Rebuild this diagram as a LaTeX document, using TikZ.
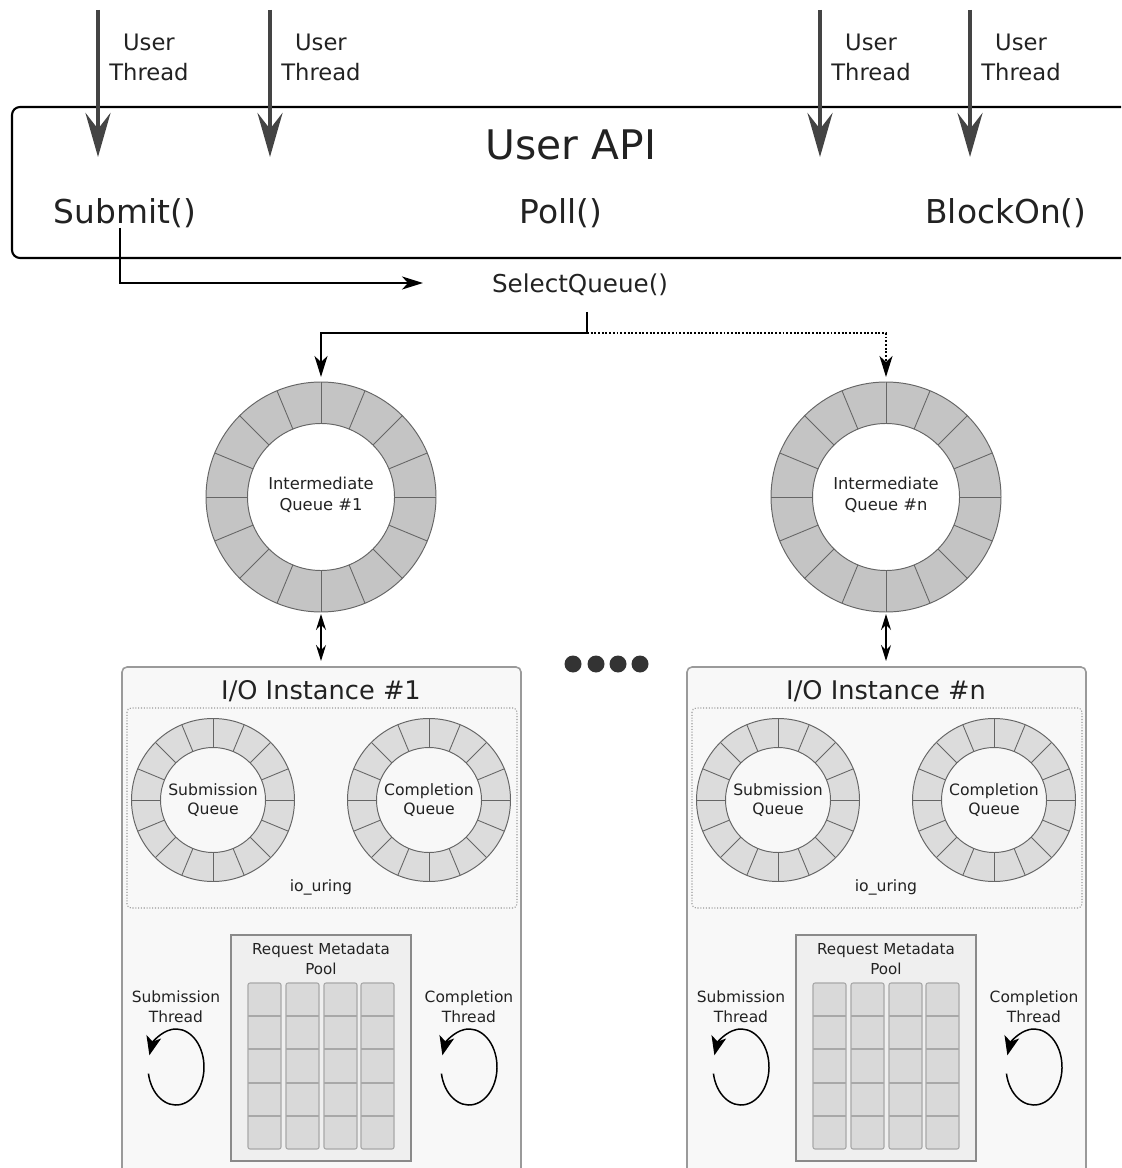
\documentclass[tikz,border=0pt]{standalone}
\usepackage{fontspec}
\setmainfont{DejaVu Sans}
\usetikzlibrary{arrows.meta}

\definecolor{txt}{HTML}{222222}
\definecolor{thr}{HTML}{444444}
\definecolor{ringA}{HTML}{C4C4C4}
\definecolor{ringB}{HTML}{DCDCDC}
\definecolor{ringline}{HTML}{666666}
\definecolor{inst}{HTML}{F8F8F8}
\definecolor{instline}{HTML}{9A9A9A}
\definecolor{poolfill}{HTML}{EFEFEF}
\definecolor{poolline}{HTML}{8A8A8A}
\definecolor{cellfill}{HTML}{D9D9D9}
\definecolor{cellline}{HTML}{A8A8A8}
\definecolor{dotc}{HTML}{333333}

% ring buffer: centre x, centre y, outer radius, inner radius, fill colour
\newcommand{\ringbuf}[5]{%
  \fill[#5,even odd rule] (#1,#2) circle[radius=#3] (#1,#2) circle[radius=#4];
  \foreach \a in {0,22.5,...,337.5}
    \draw[ringline,line width=0.5pt,shift={(#1,#2)}] (\a:#4) -- (\a:#3);
  \draw[ringline,line width=0.55pt] (#1,#2) circle[radius=#3] (#1,#2) circle[radius=#4];
}

\begin{document}
\begin{tikzpicture}[x=0.02cm,y=-0.02cm,
  lbl/.style={text=txt,inner sep=0pt,align=center},
  threadarrow/.style={draw=thr,line width=2.8pt,
    -{Stealth[length=0.88cm,width=0.5cm,inset=0.32cm]}},
  flow/.style={draw=black,line width=1.1pt,
    -{Stealth[length=0.42cm,width=0.26cm,inset=0.12cm]}},
  flowdot/.style={flow,densely dotted},
  biarrow/.style={draw=black,line width=0.7pt,
    {Stealth[length=0.32cm,width=0.2cm]}-{Stealth[length=0.32cm,width=0.2cm]}},
  spin/.style={draw=black,line width=0.85pt,
    -{Stealth[length=0.38cm,width=0.3cm,inset=0.1cm]}},
  apibox/.style={draw=black,line width=1.2pt,rounded corners=0.16cm},
  instbox/.style={fill=inst,draw=instline,line width=0.9pt,rounded corners=0.1cm},
  uringbox/.style={draw=instline,densely dotted,line width=0.6pt,rounded corners=0.08cm},
  poolbox/.style={fill=poolfill,draw=poolline,line width=0.7pt},
  poolcol/.style={fill=cellfill,draw=cellline,line width=0.6pt,rounded corners=0.04cm}
]
\useasboundingbox (0,0) rectangle (1121,1168);
\clip (0,0) rectangle (1121,1168);

% ---------- user API box ----------
\draw[apibox] (12,107) rectangle (1160,258);
\node[lbl,font=\fontsize{23.2}{28}\selectfont] (api) at (571,145) {User API};
\node[lbl,font=\fontsize{18.7}{22}\selectfont] (submit) at (125,213) {Submit()};
\node[lbl,font=\fontsize{18.7}{22}\selectfont] (poll) at (561,213) {Poll()};
\node[lbl,font=\fontsize{18.7}{22}\selectfont] (blockon) at (1006,213) {BlockOn()};

% ---------- user threads ----------
\foreach \k/\x in {1/98,2/270,3/820,4/970}{
  \coordinate (ts\k) at (\x,10);
  \coordinate (te\k) at (\x,157);
  \draw[threadarrow] (ts\k) -- (te\k);
  \node[lbl,font=\fontsize{12.9}{17}\selectfont,anchor=west] (tl\k) at (\x+11,57) {User\\Thread};
}

% ---------- queue selection ----------
\node[lbl,font=\fontsize{14}{17}\selectfont] (select) at (580,285) {SelectQueue()};
\coordinate (sbot) at (120,228);
\coordinate (sarr) at (423,283);
\draw[flow] (sbot) |- (sarr);
\coordinate (qsplit) at (587,312);
\coordinate (qbend) at (587,333);

% ---------- I/O instances ----------
\foreach \i/\ox/\n in {1/0/1,2/565/n}{
\begin{scope}[shift={(\ox,0)}]
  % intermediate queue
  \ringbuf{321}{497}{115}{73.5}{ringA}
  \node[lbl,font=\fontsize{9.3}{11.9}\selectfont] (iq\i) at (321,495) {Intermediate\\Queue \#\n};
  \coordinate (iqtop\i) at (321,377);
  \coordinate (iqbot\i) at (321,614);
  \coordinate (insttop\i) at (321,661);
  \draw[biarrow] (iqbot\i) -- (insttop\i);

  % instance frame
  \draw[instbox] (122,667) rectangle (521,1200);
  \node[lbl,font=\fontsize{14.6}{17}\selectfont] (it\i) at (321,691) {I/O Instance \#\n};

  % io_uring
  \draw[uringbox] (127,708) rectangle (517,908);
  \ringbuf{213}{800}{81.5}{52.5}{ringB}
  \ringbuf{429}{800}{81.5}{52.5}{ringB}
  \node[lbl,font=\fontsize{8.9}{11.3}\selectfont] (sq\i) at (213,800) {Submission\\Queue};
  \node[lbl,font=\fontsize{8.9}{11.3}\selectfont] (cq\i) at (429,800) {Completion\\Queue};
  \node[lbl,font=\fontsize{8.9}{11.3}\selectfont] (ur\i) at (321,887) {io\_uring};

  % request metadata pool
  \draw[poolbox] (231,935) rectangle (411,1161);
  \node[lbl,font=\fontsize{8.6}{11.3}\selectfont] (pool\i) at (321,959) {Request Metadata\\Pool};
  \foreach \cx in {248,286,324,361}{
    \draw[poolcol] (\cx,983) rectangle (\cx+33,1149);
    \foreach \ry in {1016,1049,1083,1116}
      \draw[cellline,line width=0.6pt] (\cx,\ry) -- (\cx+33,\ry);
  }

  % worker threads
  \node[lbl,font=\fontsize{8.8}{11.3}\selectfont] (st\i) at (176,1007) {Submission\\Thread};
  \node[lbl,font=\fontsize{8.8}{11.3}\selectfont] (ct\i) at (469,1007) {Completion\\Thread};
  \coordinate (sc\i) at (176,1067);
  \coordinate (cc\i) at (469,1067);
  \draw[spin] (sc\i) ++(170:28 and 38) arc[start angle=170,end angle=-162,x radius=28,y radius=38];
  \draw[spin] (cc\i) ++(170:28 and 38) arc[start angle=170,end angle=-162,x radius=28,y radius=38];
\end{scope}
}

\draw[flow] (qsplit) -- (qbend) -| (iqtop1);
\draw[flowdot] (qbend) -| (iqtop2);

% ellipsis between instances
\foreach \k/\x in {1/573,2/596,3/618,4/640}
  \fill[dotc] (\x,664) circle[radius=8.5] coordinate (dot\k);

\end{tikzpicture}
\end{document}
